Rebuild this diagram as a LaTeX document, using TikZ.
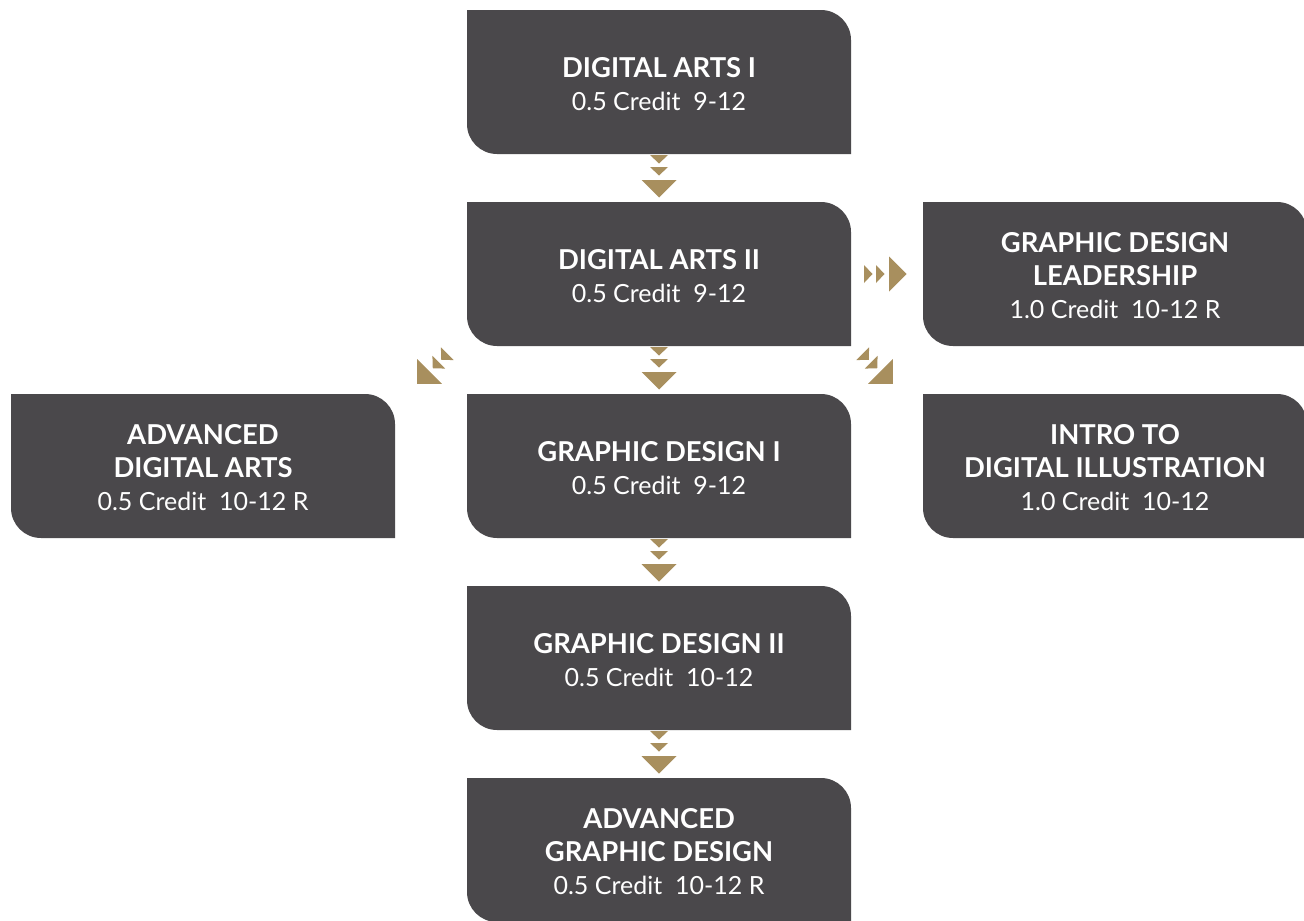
\documentclass[tikz,border=0pt]{standalone}
\usepackage{fontspec}
\setmainfont{Lato}
\usepackage{tikz}
\usetikzlibrary{positioning, calc, backgrounds}

\definecolor{boxgray}{RGB}{74,72,75}
\definecolor{arrowgold}{RGB}{168,143,94}

\tikzset{
    course/.style={minimum width=384pt, minimum height=144pt, inner sep=0pt, outer sep=0pt,
        align=center, text=white, font=\fontsize{25}{33}\selectfont},
    pics/goldarrow/.style={code={
        \fill[arrowgold] (-23,9) -- (-14.5,0) -- (-23,-9) -- cycle;
        \fill[arrowgold] (-11,9) -- (-2.5,0) -- (-11,-9) -- cycle;
        \fill[arrowgold] (2,17.5) -- (19.5,0) -- (2,-17.5) -- cycle;
    }}
}
\newcommand{\ctitle}[1]{{\bfseries\fontsize{27.4}{33}\selectfont\rule{0pt}{24pt}#1}}

\begin{document}
\begin{tikzpicture}[x=1pt, y=1pt, node distance=48pt and 72pt]
                  \useasboundingbox (0,0) rectangle (1304,-921);

                  % Course boxes
                  \node[course] (da1) at (659,-82) {\ctitle{DIGITAL ARTS I}\\0.5 Credit\ \ 9-12};
                  \node[course, below=of da1] (da2) {\ctitle{DIGITAL ARTS II}\\0.5 Credit\ \ 9-12};
                  \node[course, below=of da2] (gd1) {\ctitle{GRAPHIC DESIGN I}\\0.5 Credit\ \ 9-12};
                  \node[course, below=of gd1] (gd2) {\ctitle{GRAPHIC DESIGN II}\\0.5 Credit\ \ 10-12};
                  \node[course, below=of gd2] (agd) {\ctitle{ADVANCED}\\\ctitle{GRAPHIC DESIGN}\\0.5 Credit\ \ 10-12 R};
                  \node[course, right=of da2] (gdl) {\ctitle{GRAPHIC DESIGN}\\\ctitle{LEADERSHIP}\\1.0 Credit\ \ 10-12 R};
                  \node[course, right=of gd1] (idi) {\ctitle{INTRO TO}\\\ctitle{DIGITAL ILLUSTRATION}\\1.0 Credit\ \ 10-12};
                  \node[course, left=of gd1] (ada) {\ctitle{ADVANCED}\\\ctitle{DIGITAL ARTS}\\0.5 Credit\ \ 10-12 R};

                  % Box shapes, rounded top right and bottom left
                  \begin{pgfonlayer}{background}
                  \foreach \n in {da1,da2,gd1,gd2,agd,gdl,idi,ada}
                      \fill[boxgray] (\n.north west) -- ([xshift=-30pt]\n.north east)
                          arc[start angle=90, end angle=0, radius=30pt] -- (\n.south east)
                          -- ([xshift=30pt]\n.south west)
                          arc[start angle=270, end angle=180, radius=30pt] -- cycle;
                  \end{pgfonlayer}

                  % Gold arrows
                  \pic[rotate=-90] at ($(da1.south)!0.5!(da2.north)$) {goldarrow};
                  \pic[rotate=-90] at ($(da2.south)!0.5!(gd1.north)$) {goldarrow};
                  \pic[rotate=-90] at ($(gd1.south)!0.5!(gd2.north)$) {goldarrow};
                  \pic[rotate=-90] at ($(gd2.south)!0.5!(agd.north)$) {goldarrow};
                  \pic at ($(da2.east)!0.5!(gdl.west)$) {goldarrow};
                  \pic[rotate=-45] at ($(da2.south east)!0.5!(idi.north west)+(-8,0)$) {goldarrow};
                  \pic[rotate=-135] at ($(da2.south west)!0.5!(ada.north east)$) {goldarrow};

              \end{tikzpicture}
\end{document}
